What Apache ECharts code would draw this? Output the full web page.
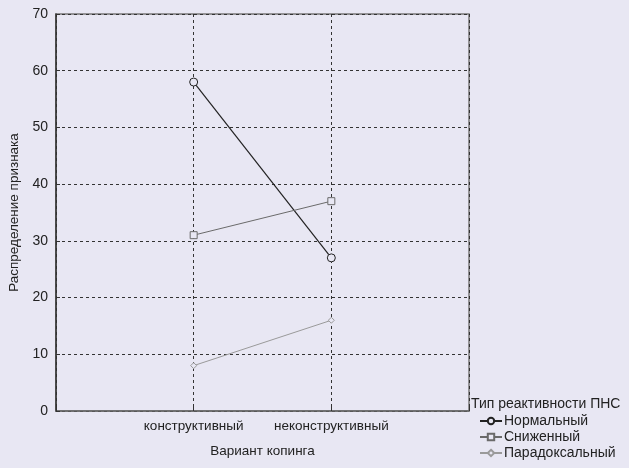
<!DOCTYPE html>
<html><head><meta charset="utf-8">
<script src="https://cdn.jsdelivr.net/npm/echarts@6/dist/echarts.min.js"></script>
<style>html,body{margin:0;padding:0;background:#e8e7f3;}#c{width:629px;height:468px;}</style>
</head><body><div id="c"></div>
<script>
const categories = ['конструктивный', 'неконструктивный'];
const normal = [58, 27];
const reduced = [31, 37];
const paradox = [8, 16];
const yTicks = [0, 10, 20, 30, 40, 50, 60, 70];
const legendTitle = 'Тип реактивности ПНС';
const seriesNames = ['Нормальный', 'Сниженный', 'Парадоксальный'];

const bg = '#e8e7f3';
const font = 'Liberation Sans, Arial, sans-serif';
const toPts = vals => categories.map((c, i) => [i + 1, vals[i]]);
const chart = echarts.init(document.getElementById('c'));
chart.setOption({
  backgroundColor: bg,
  animation: false,
  textStyle: {fontFamily: font},
  title: {text: legendTitle, left: 466, top: 392, textStyle: {fontSize: 14, fontWeight: 'normal', color: '#222', fontFamily: font}},
  legend: {
    orient: 'vertical', left: 474, top: 409, itemGap: 2, itemWidth: 22, itemHeight: 8,
    textStyle: {fontSize: 14, color: '#222', fontFamily: font, padding: [0,0,0,-3]},
    data: seriesNames
  },
  grid: {left: 56, top: 14, width: 413, height: 397, outerBoundsMode: 'none', containLabel: false, show: true, borderColor: '#777', borderWidth: 1.5, backgroundColor: 'transparent'},
  xAxis: {
    type: 'value', min: 0, max: 3, interval: 1,
    name: 'Вариант копинга', nameLocation: 'middle', nameGap: 33,
    nameTextStyle: {fontSize: 13.5, color: '#222', fontFamily: font},
    axisLine: {show: true, lineStyle: {color: '#666', width: 1.5}},
    axisTick: {show: true, inside: true, length: 4, lineStyle: {color: '#333'}},
    axisLabel: {fontSize: 13.5, color: '#222', margin: 8, formatter: v => categories[v - 1] || ''},
    splitLine: {show: true, lineStyle: {color: '#333', type: [3, 3], width: 1}}
  },
  yAxis: {
    type: 'value', min: 0, max: 70, interval: 10,
    name: 'Распределение признака', nameLocation: 'middle', nameGap: 31,
    nameTextStyle: {fontSize: 13.5, color: '#222', fontFamily: font},
    axisLine: {show: true, lineStyle: {color: '#333', width: 1.5}},
    axisTick: {show: true, inside: true, length: 4, lineStyle: {color: '#333'}},
    axisLabel: {fontSize: 14, color: '#222', margin: 8, formatter: v => yTicks.includes(v) ? String(v) : ''},
    splitLine: {show: true, lineStyle: {color: '#333', type: [3, 3], width: 1}}
  },
  series: [
    {name: seriesNames[0], type: 'line', data: toPts(normal), symbol: 'circle', symbolSize: 8,
     lineStyle: {color: '#222', width: 1.2}, itemStyle: {color: bg, borderColor: '#222', borderWidth: 1}},
    {name: seriesNames[1], type: 'line', data: toPts(reduced), symbol: 'rect', symbolSize: 7,
     lineStyle: {color: '#6a6a6a', width: 1}, itemStyle: {color: bg, borderColor: '#6a6a6a', borderWidth: 1}},
    {name: seriesNames[2], type: 'line', data: toPts(paradox), symbol: 'diamond', symbolSize: 6,
     lineStyle: {color: '#9a9a9a', width: 1}, itemStyle: {color: bg, borderColor: '#9a9a9a', borderWidth: 1}}
  ]
});
</script></body></html>
